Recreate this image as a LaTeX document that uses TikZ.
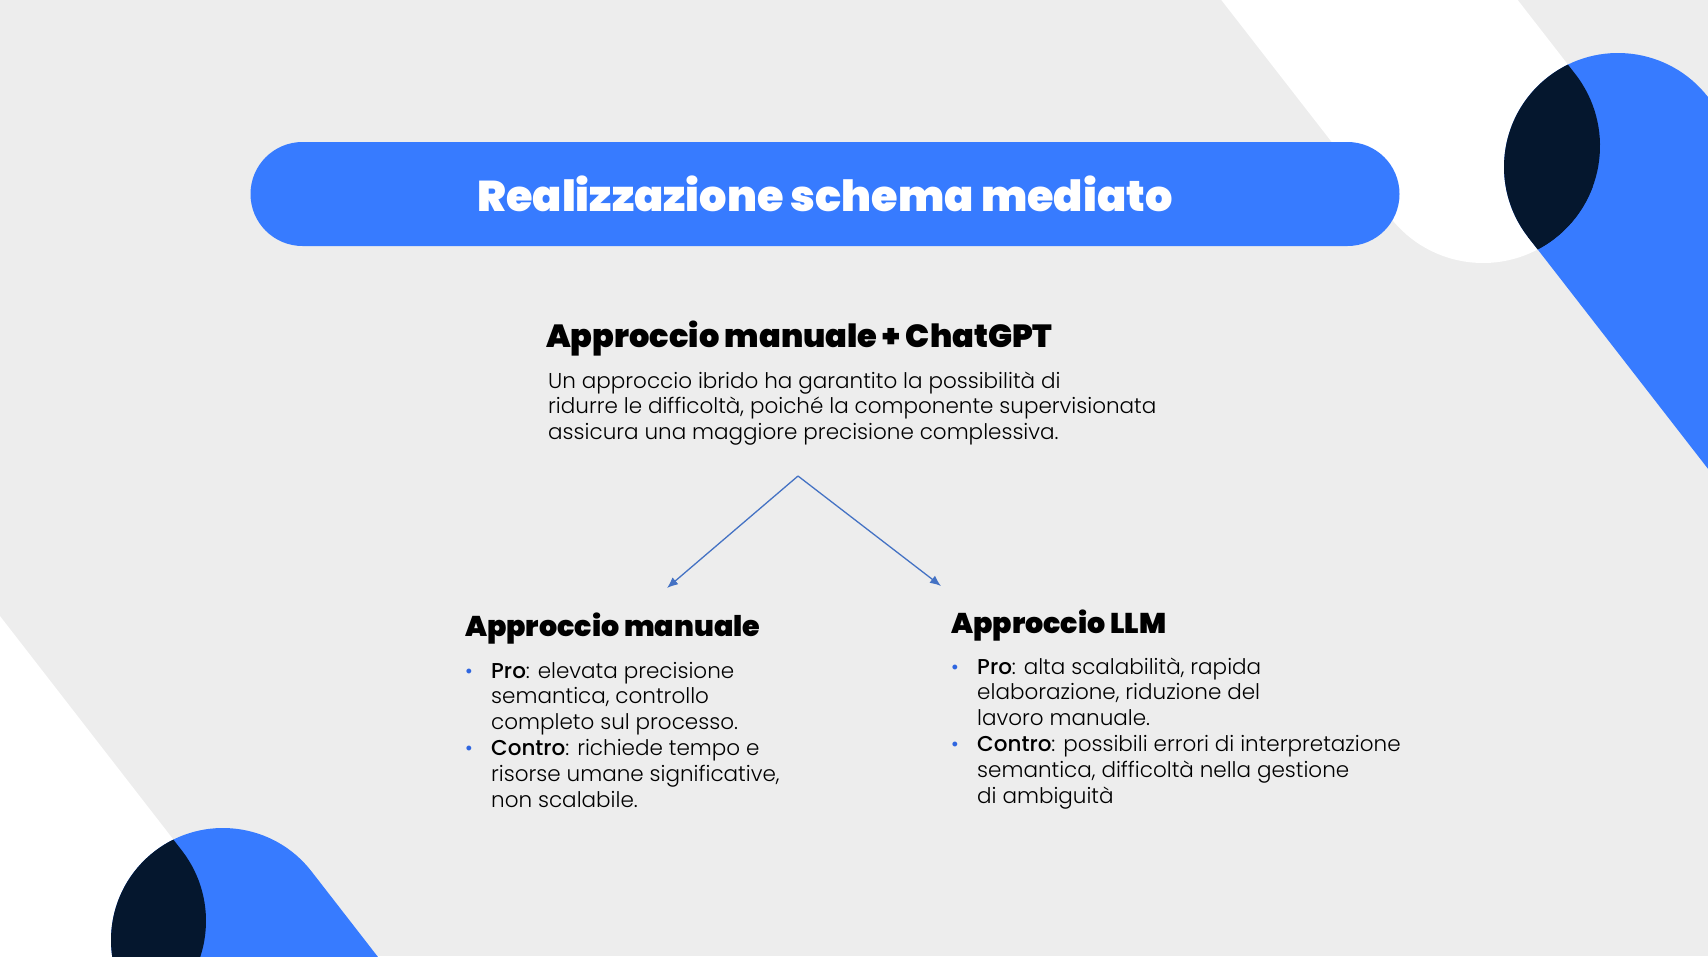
\documentclass[tikz,border=0pt]{standalone}
\usepackage{fontspec}
\setmainfont{Poppins}[UprightFont=* Light, BoldFont=* Black]
\newfontface\mediumfont{Poppins Medium}
\usepackage{tikz}
\usetikzlibrary{positioning, arrows.meta}
\definecolor{slidegray}{HTML}{EDEDED}
\definecolor{slideblue}{HTML}{377BFF}
\definecolor{slidenavy}{HTML}{05172E}
\definecolor{arrowblue}{HTML}{4472C4}
\definecolor{dotblue}{HTML}{2F66E0}
\tikzstyle{titlebar} = [rectangle, rounded corners=52pt, minimum width=1149pt, minimum height=104pt, inner sep=0pt, fill=slideblue, text=white, font=\fontsize{43}{50}\selectfont\bfseries]
\tikzstyle{heading} = [inner sep=0pt, anchor=base west, font=\fontsize{32}{36}\selectfont\bfseries]
\tikzstyle{subheading} = [inner sep=0pt, anchor=base west, font=\fontsize{28.5}{32}\selectfont\bfseries]
\tikzstyle{body} = [inner sep=0pt, anchor=base west, font=\fontsize{21.5}{25.8}\selectfont]
\tikzstyle{wband} = [white, line cap=round]
\tikzstyle{bband} = [slideblue, line cap=round]
\tikzstyle{nband} = [slidenavy, line cap=round]
\tikzstyle{arrow} = [line width=1.3pt, draw=arrowblue, -{Latex[length=11pt, width=9pt]}]
\newcommand{\dotitem}{\textcolor{dotblue}{\fontsize{21}{25}\selectfont\textbullet}}

\begin{document}
\begin{tikzpicture}[x=1pt, y=-1pt]

\useasboundingbox (0,0) rectangle (1708,956);
\fill[slidegray] (0,0) rectangle (1708,956);

% background bands
\begin{scope}
\clip (0,0) rectangle (1708,956);
\draw[wband, line width=234pt] (1176,-249) -- (1483,146);
\draw[wband, line width=230pt] (-338,368) -- (91,921);
\draw[bband, line width=228pt] (1618,167) -- (1986,641);
\draw[bband, line width=224pt] (223,940) -- (407,1177);
\begin{scope}
\clip (1618,167) circle (114);
\draw[nband, line width=234pt] (1176,-249) -- (1483,146);
\end{scope}
\begin{scope}
\clip (1708,97) -- (2076,571) -- (1896,711) -- (1528,237) -- cycle;
\draw[nband, line width=234pt] (1176,-249) -- (1483,146);
\end{scope}
\begin{scope}
\clip (223,940) circle (112);
\draw[nband, line width=230pt] (-338,368) -- (91,921);
\end{scope}
\begin{scope}
\clip (311,871) -- (495,1108) -- (318,1246) -- (134,1009) -- cycle;
\draw[nband, line width=230pt] (-338,368) -- (91,921);
\end{scope}
\end{scope}

\node (titel) [titlebar] at (825,194) {Realizzazione schema mediato};

\node (ibrido) [heading] at (546,347) {Approccio manuale + ChatGPT};
\node (ibridotxt) [body] at (548,388) {\begin{tabular}[t]{@{}l@{}}
Un approccio ibrido ha garantito la possibilità di\\
ridurre le difficoltà, poiché la componente supervisionata\\
assicura una maggiore precisione complessiva.
\end{tabular}};

\node (manuale) [subheading] at (465,636) {Approccio manuale};
\node (manualetxt) [body] at (465,678) {\begin{tabular}[t]{@{}p{26pt}@{}l@{}}
\dotitem & {\mediumfont Pro}: elevata precisione\\
 & semantica, controllo\\
 & completo sul processo.\\
\dotitem & {\mediumfont Contro}: richiede tempo e\\
 & risorse umane significative,\\
 & non scalabile.
\end{tabular}};

\node (llm) [subheading] at (951,633) {Approccio LLM};
\node (llmtxt) [body] at (951,674) {\begin{tabular}[t]{@{}p{26pt}@{}l@{}}
\dotitem & {\mediumfont Pro}: alta scalabilità, rapida\\
 & elaborazione, riduzione del\\
 & lavoro manuale.\\
\dotitem & {\mediumfont Contro}: possibili errori di interpretazione\\
 & semantica, difficoltà nella gestione\\
 & di ambiguità
\end{tabular}};

\coordinate (fork) at (798,476);
\coordinate (tipman) at (667,588);
\coordinate (tipllm) at (941,586);
\draw [arrow] (fork) -- (tipman);
\draw [arrow] (fork) -- (tipllm);

\end{tikzpicture}
\end{document}
